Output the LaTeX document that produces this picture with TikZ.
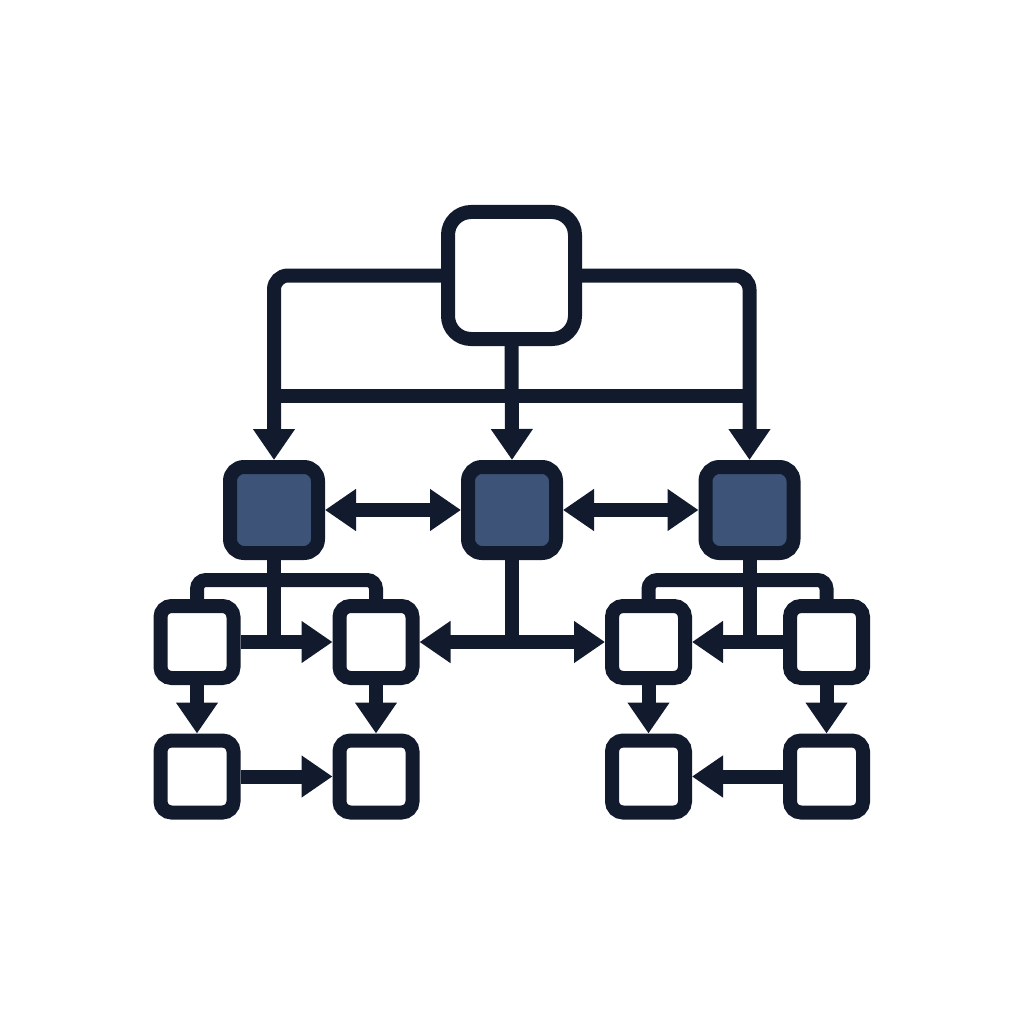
\documentclass[tikz,border=0pt]{standalone}
\usetikzlibrary{arrows.meta}
\definecolor{ink}{HTML}{121B2E}
\definecolor{slate}{HTML}{3D5378}
\tikzset{
  ln/.style={draw=ink, line width=14pt, line cap=butt, line join=miter},
  bigbox/.style={ln, fill=white, rectangle, rounded corners=23pt, minimum width=127pt, minimum height=127pt, inner sep=0pt},
  midbox/.style={ln, fill=slate, rectangle, rounded corners=14pt, minimum width=88pt, minimum height=86pt, inner sep=0pt},
  smallbox/.style={ln, fill=white, rectangle, rounded corners=11pt, minimum width=73pt, minimum height=72pt, inner sep=0pt},
  tip/.tip={Triangle[width=40pt,length=31pt]},
  arr/.style={ln, -tip},
  darr/.style={ln, tip-tip},
  bus/.style={ln, rounded corners=9pt},
}
\begin{document}
\begin{tikzpicture}[x=1pt,y=-1pt]
\useasboundingbox (0,0) rectangle (1024,1024);
% nodes
\node[bigbox] (top) at (511.5,275.5) {};
\node[midbox] (ml) at (274,510) {};
\node[midbox] (mc) at (512,510) {};
\node[midbox] (mr) at (749.5,510) {};
\node[smallbox] (L1) at (197,642) {};
\node[smallbox] (L2) at (376,642) {};
\node[smallbox] (L3) at (197,776.5) {};
\node[smallbox] (L4) at (376,776.5) {};
\node[smallbox] (R1) at (648.5,642) {};
\node[smallbox] (R2) at (826.5,642) {};
\node[smallbox] (R3) at (648.5,776.5) {};
\node[smallbox] (R4) at (826.5,776.5) {};
% helper coordinates
\coordinate (busL) at (274,396);
\coordinate (busR) at (749.5,396);
\coordinate (lb) at (274,580);
\coordinate (rb) at (749.5,580);
% top fan-out
\draw[ln] (busL) -- (busR);
\draw[arr, rounded corners=14pt] (top.west) -| (ml.north);
\draw[arr, rounded corners=14pt] (top.east) -| (mr.north);
\draw[arr] (top.south) -- (mc.north);
% middle row links
\draw[darr] (ml.east) -- (mc.west);
\draw[darr] (mc.east) -- (mr.west);
% centre drop and double arrow
\draw[ln] (mc.south) -- (mc.south |- L2.east);
\draw[darr] (L2.east) -- (R1.west);
% left cluster
\draw[bus] (L1.north) |- (lb) -| (L2.north);
\draw[ln] (ml.south) -- (ml.south |- L1.east);
\draw[arr] (L1.east) -- (L2.west);
\draw[arr] (L1.south) -- (L3.north);
\draw[arr] (L2.south) -- (L4.north);
\draw[arr] (L3.east) -- (L4.west);
% right cluster
\draw[bus] (R1.north) |- (rb) -| (R2.north);
\draw[ln] (mr.south) -- (mr.south |- R2.west);
\draw[arr] (R2.west) -- (R1.east);
\draw[arr] (R1.south) -- (R3.north);
\draw[arr] (R2.south) -- (R4.north);
\draw[arr] (R4.west) -- (R3.east);
\end{tikzpicture}
\end{document}
